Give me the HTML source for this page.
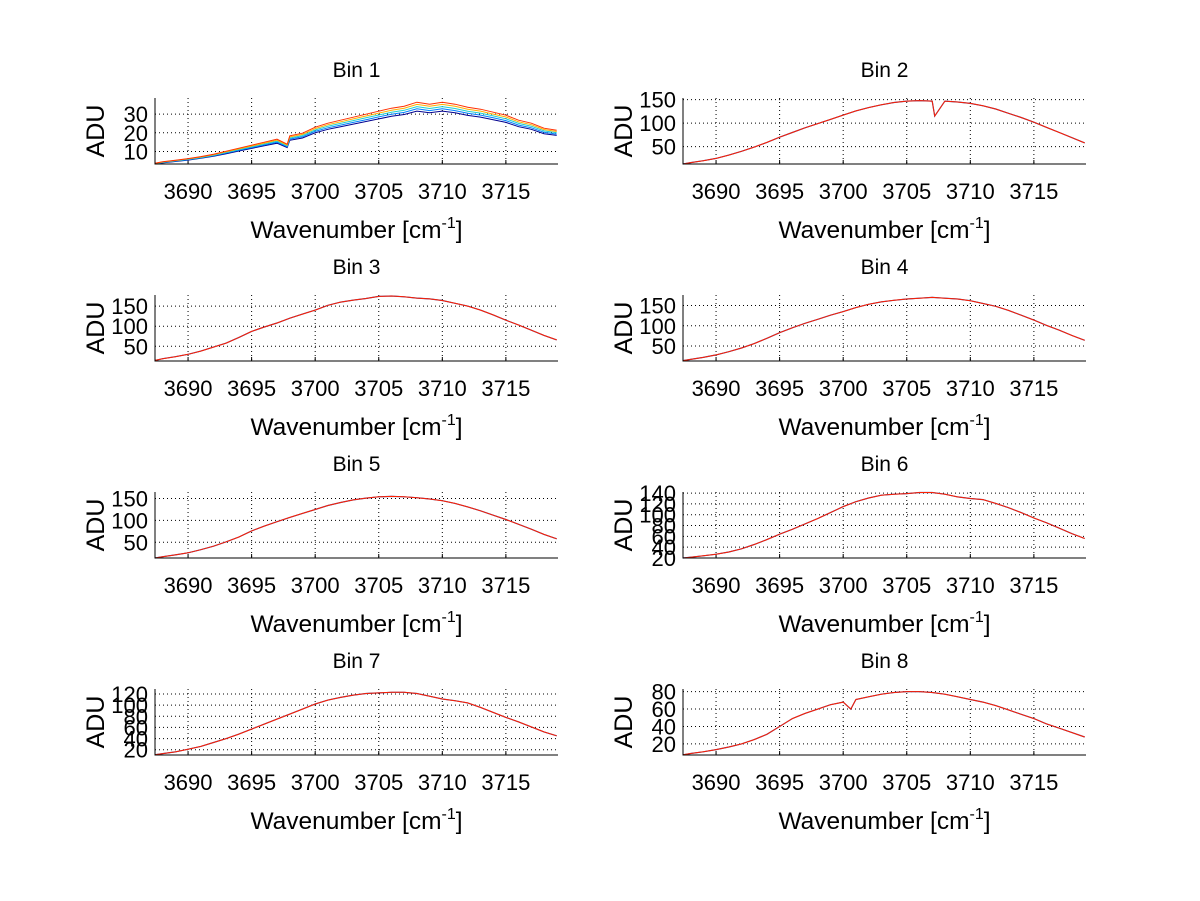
<!DOCTYPE html>
<html><head><meta charset="utf-8"><style>
body{margin:0;background:#fff}
svg{display:block;font-family:"Liberation Sans",sans-serif}
</style></head><body>
<svg id="fig" width="1200" height="901" viewBox="0 0 1200 901"></svg>
<script>
const wn = [3687.4,3688,3689,3690,3691,3692,3693,3694,3695,3696,3697,3698,3699,3700,3701,3702,3703,3704,3705,3706,3707,3708,3709,3710,3711,3712,3713,3714,3715,3716,3717,3718,3719];
const bin1 = [3.5,4.2,5,5.8,6.8,8,9.5,11,12.5,14,15.5,17.2,18.5,21.5,23.5,25,26.5,28,29.5,31,32,34,33,34,33,31.5,30.5,29,27.5,25,23.5,21,20];
const bin1Scale = [0.93,0.965,1.0,1.035,1.07];
const bin2 = [13,16,20,25,32,40,49,59,70,80,90,99,108,117,126,133,139,144,147,148,147,147,145,142,137,130,121,112,102,91,80,69,58];
const bin3 = [15,19,24,30,38,48,58,72,87,98,108,120,130,140,152,160,165,169,174,175,173,170,168,164,157,150,140,128,115,103,90,77,66];
const bin4 = [14,17,22,28,36,45,56,69,83,95,106,116,126,135,145,153,159,163,166,168,170,168,166,162,155,148,138,126,114,101,89,76,64];
const bin5 = [14,17,21,26,33,41,51,62,76,87,97,107,116,125,134,141,147,151,154,155,154,152,149,145,139,131,122,112,102,91,80,68,58];
const bin6 = [20,21.5,24,27,31,37,45,54,64,73,83,93,104,115,124,131,136,138,139,141,141,138,133,130,128,121,113,104,94,85,75,65,56];
const bin7 = [11,13,16,21,26,33,40,48,57,66,75,84,93,102,109,114,118,121,122,123,123,121,116,111,108,104,96,87,78,70,61,52,45];
const bin8 = [7.5,9,11,13.5,16.5,20,25,31,40,49,55,60,65,68,71,74,77,79,80,80,79,77,74,71,68,64,59,54,49,43,38,33,28];
const spikeWn = [[3697.8],[3707.2],[],[],[],[],[],[3700.6]];
const spikeVal = [[13],[115],[],[],[],[],[],[60]];
const xTicks = [3690,3695,3700,3705,3710,3715];
const yTicks = [[10,20,30],[50,100,150],[50,100,150],[50,100,150],[50,100,150],[20,40,60,80,100,120,140],[20,40,60,80,100,120],[20,40,60,80]];
const yLims = [[3.3,38.6],[13,153.5],[13.4,177.6],[13,176],[14,165],[20,142],[10.5,129],[7.3,83]];
const series = [bin1,bin2,bin3,bin4,bin5,bin6,bin7,bin8];
const xLim = [3687.4,3719.1];

const NS="http://www.w3.org/2000/svg";
const svg=document.getElementById('fig');
function mk(tag,attrs,parent){const e=document.createElementNS(NS,tag);for(const k in attrs)e.setAttribute(k,attrs[k]);(parent||svg).appendChild(e);return e;}
const colsX=[155,683], W=403, tops=[98,295,492,689], H=66;
const b1Colors=['#00008f','#0080ff','#20d0d0','#ffb000','#ff3000'];
for(let b=0;b<8;b++){
  const x0=colsX[b%2], y0=tops[Math.floor(b/2)];
  const g=mk('g',{});
  
  
  const X=v=>x0+(v-xLim[0])/(xLim[1]-xLim[0])*W;
  const Y=v=>y0+H-(v-yLims[b][0])/(yLims[b][1]-yLims[b][0])*H;
  xTicks.forEach(t=>{
    const l=mk('line',{x1:X(t),x2:X(t),y1:y0,y2:y0+H,stroke:'#000','stroke-width':1,'stroke-dasharray':'1,3'},g);
    
    
    mk('line',{x1:X(t),x2:X(t),y1:y0+H,y2:y0+H-4,stroke:'#000'},g);
    const tx=mk('text',{x:X(t),y:y0+H+35,'font-size':22,'text-anchor':'middle'},g);
    tx.textContent=t;
    
    
  });
  yTicks[b].forEach(t=>{
    const l=mk('line',{x1:x0,x2:x0+W,y1:Y(t),y2:Y(t),stroke:'#000','stroke-width':1,'stroke-dasharray':'1,3'},g);
    
    
    const tx=mk('text',{x:x0-7,y:Y(t)+8,'font-size':22,'text-anchor':'end'},g);
    tx.textContent=t;
    
    
  });
  let pts=wn.map((w,i)=>[w,series[b][i]]);
  spikeWn[b].forEach((w,i)=>pts.push([w,spikeVal[b][i]]));
  pts.sort((a,c)=>a[0]-c[0]);
  const cx=p=>Math.max(x0,Math.min(x0+W,X(p[0])));
  if(b===0){
    bin1Scale.forEach((s,k)=>{
      const d=pts.map((p,i)=>(i?'L':'M')+cx(p).toFixed(1)+','+Math.min(y0+H,Y(p[1]*s)).toFixed(1)).join('');
      const pl=mk('path',{d:d,fill:'none',stroke:b1Colors[k],'stroke-width':1},g);
      
      
    });
  } else {
    const d=pts.map((p,i)=>(i?'L':'M')+cx(p).toFixed(1)+','+Y(p[1]).toFixed(1)).join('');
    const pb=mk('path',{d:d,fill:'none',stroke:'#3040a0','stroke-width':1.2},g);
    
    
    const pr=mk('path',{d:d,fill:'none',stroke:'#ff2000','stroke-width':1},g);
    
    
  }
  const ax=mk('path',{d:`M${x0},${y0}V${y0+H}H${x0+W}`,fill:'none',stroke:'#000','stroke-width':1},g);
  
  
  const ti=mk('text',{x:x0+W/2,y:y0-21,'font-size':21,'text-anchor':'middle'},g);
  ti.textContent='Bin '+(b+1);
  
  
  const xl=mk('text',{x:x0+W/2,y:y0+H+74,'font-size':24.5,'text-anchor':'middle'},g);
  xl.innerHTML='Wavenumber [cm<tspan dy="-10" font-size="16">-1</tspan><tspan dy="10">]</tspan>';
  
  
  const yl=mk('text',{x:0,y:0,'font-size':25,'text-anchor':'middle',transform:`translate(${x0-51},${y0+H/2}) rotate(-90)`},g);
  yl.textContent='ADU';
  
  
}
</script>
</body></html>
